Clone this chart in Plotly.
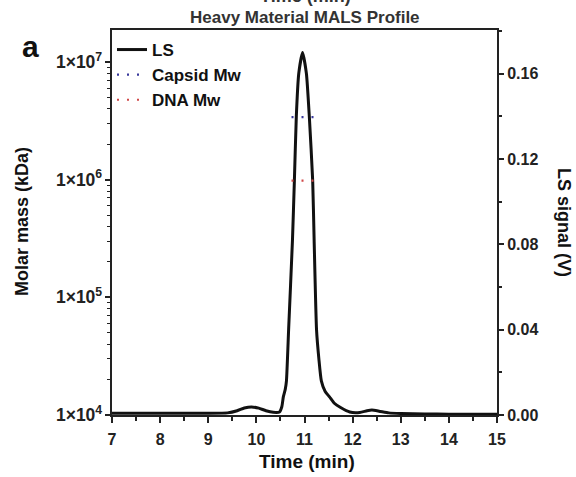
import plotly.graph_objects as go

# ---- data ----
time_ls = [7.0, 8.0, 9.0, 9.4, 9.6, 9.75, 9.9, 10.05, 10.2, 10.35, 10.48, 10.53, 10.56, 10.6,
           10.625, 10.67, 10.75, 10.79, 10.83, 10.88, 10.96, 11.04, 11.10, 11.17, 11.20, 11.25,
           11.30, 11.35, 11.43, 11.52, 11.62, 11.75, 11.94, 12.15, 12.3, 12.4, 12.55, 12.75,
           13.0, 13.5, 14.0, 15.0]
ls_signal = [0.0008, 0.0008, 0.0008, 0.0010, 0.0020, 0.0033, 0.0038, 0.0032, 0.0020, 0.0013,
             0.0014, 0.0040, 0.0085, 0.0120, 0.016, 0.040, 0.082, 0.110, 0.140, 0.160, 0.170,
             0.160, 0.140, 0.110, 0.082, 0.040, 0.026, 0.016, 0.011, 0.0085, 0.0055, 0.0035,
             0.0014, 0.0012, 0.0020, 0.0023, 0.0018, 0.0010, 0.0007, 0.0005, 0.0004, 0.0003]

time_mw = [10.73, 10.80, 10.87, 10.94, 11.01, 11.08, 11.15, 11.22, 11.29]
capsid_mw = [3.4e6, 3.4e6, 3.4e6, 3.4e6, 3.4e6, 3.4e6, 3.4e6, 3.4e6, 3.4e6]
dna_mw = [9.8e5, 9.8e5, 9.8e5, 9.8e5, 9.8e5, 9.8e5, 9.8e5, 9.8e5, 9.8e5]

x_ticks = [7, 8, 9, 10, 11, 12, 13, 14, 15]          # major x ticks, step 1
left_decades = [4, 5, 6, 7]                          # 1×10^4 ... 1×10^7
right_ticks = [0.00, 0.04, 0.08, 0.12, 0.16]

X_RANGE = [7, 15]
LEFT_RANGE = [4, 7.272]      # log10
RIGHT_RANGE = [0, 0.1805]

FONT = "Liberation Sans, Arial, Helvetica, sans-serif"
AX = "#222222"
W, H = 576, 477
ML, MR, MT, MB = 112, 79, 30, 62
PW, PH = W - ML - MR, H - MT - MB


def px_x(x):
    return (x - ML) / PW


def px_y(y):
    return (H - MB - y) / PH


fig = go.Figure()
# LS on the right linear axis (yaxis), drawn first
fig.add_trace(go.Scatter(x=time_ls, y=ls_signal, yaxis="y", mode="lines", name="LS",
                         line=dict(color="#111111", width=3, shape="spline", smoothing=0.5),
                         legendgroup="a"))
# molar masses on the left log axis (yaxis2), drawn on top
fig.add_trace(go.Scatter(x=time_mw, y=capsid_mw, yaxis="y2", mode="lines", name="Capsid Mw",
                         line=dict(color="#3a3a9c", width=2.2, dash="2px,8px"), legendgroup="b"))
fig.add_trace(go.Scatter(x=time_mw, y=dna_mw, yaxis="y2", mode="lines", name="DNA Mw",
                         line=dict(color="#d04848", width=2.2, dash="2px,8px"), legendgroup="c"))

fig.update_layout(
    width=W, height=H,
    margin=dict(l=ML, r=MR, t=MT, b=MB, autoexpand=False),
    paper_bgcolor="white", plot_bgcolor="white",
    font=dict(family=FONT, color=AX, size=14, weight="bold"),
    showlegend=True,
    legend=dict(x=0.0, y=px_y(32), xanchor="left", yanchor="top", bgcolor="rgba(0,0,0,0)",
                font=dict(size=17, weight="bold", color="#111111"), tracegroupgap=0),
    xaxis=dict(range=X_RANGE, tickmode="linear", tick0=x_ticks[0],
               dtick=x_ticks[1] - x_ticks[0], showline=True, linecolor=AX, linewidth=2,
               mirror=True, ticks="outside", ticklen=6, tickwidth=2, tickcolor=AX,
               showgrid=False, zeroline=False, ticklabelstandoff=3,
               tickfont=dict(size=16, weight="bold", color="#222"),
               minor=dict(dtick=0.5, ticks="outside", ticklen=4, tickwidth=1.5,
                          tickcolor=AX, showgrid=False)),
    yaxis=dict(side="right", range=RIGHT_RANGE, tickmode="linear", tick0=right_ticks[0],
               dtick=right_ticks[1] - right_ticks[0], tickformat=".2f",
               showline=True, linecolor=AX, linewidth=2,
               ticks="outside", ticklen=5, tickwidth=1.5, tickcolor=AX, showgrid=False,
               zeroline=False, tickfont=dict(size=16, weight="bold", color="#222"),
               minor=dict(dtick=0.02, ticks="outside", ticklen=3, tickwidth=1.5,
                          tickcolor=AX, showgrid=False)),
    yaxis2=dict(overlaying="y", side="left", type="log", range=LEFT_RANGE,
                tickmode="linear", tick0=left_decades[0], dtick=1,
                exponentformat="power", showexponent="all", tickprefix="1×",
                showline=True, linecolor=AX, linewidth=2, ticks="outside", ticklen=5,
                tickwidth=1.5, tickcolor=AX, showgrid=False, zeroline=False,
                tickfont=dict(size=14, weight="bold", color="#222"),
                minor=dict(dtick="D1", ticks="outside", ticklen=3, tickwidth=1,
                           tickcolor=AX, showgrid=False)),
)

TITLE_FONT = dict(size=19, weight="bold", color="#111")


def note(text, x, y, font, angle=0):
    fig.add_annotation(text=text, xref="paper", yref="paper", x=px_x(x), y=px_y(y),
                       xanchor="center", yanchor="middle", textangle=angle,
                       showarrow=False, font=font)


# axis titles
note("Time (min)", 307, 461, TITLE_FONT)
note("Molar mass (kDa)", 22, 222, dict(size=18, weight="bold", color="#111"), -90)
note("LS signal (V)", 564, 222, dict(size=18, weight="bold", color="#111"), 90)
# panel letter
note("a", 30, 46, dict(size=30, weight="bold", color="#111"))
# title
note("Heavy Material MALS Profile", 305, 18, dict(size=17, weight="bold", color="#333"))
# clipped text at the very top
note("Time (min)", 305, -4, dict(size=18, weight="bold", color="#333"))

fig.write_html("out.html", config={"displayModeBar": False},
               post_script="document.body.style.margin='0';")
